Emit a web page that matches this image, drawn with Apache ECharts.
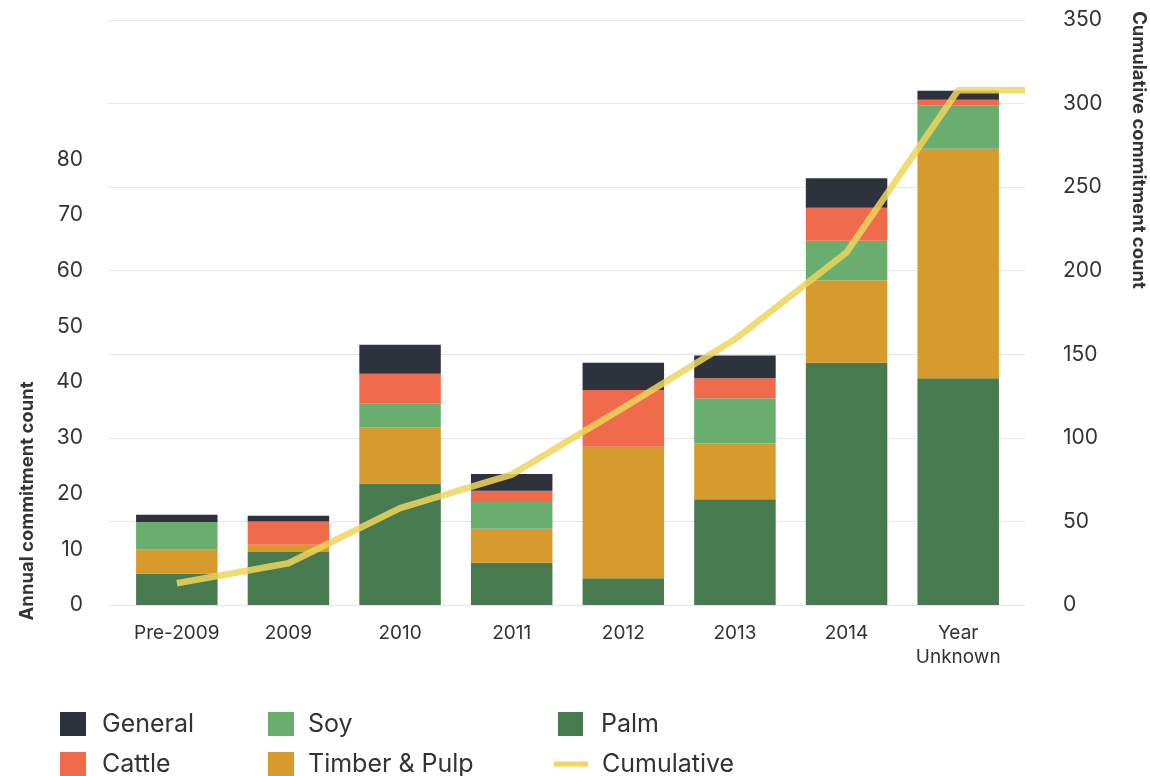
<!DOCTYPE html>
<html><head><meta charset="utf-8">
<script src="https://cdn.jsdelivr.net/npm/echarts@6/dist/echarts.min.js"></script>
<style>html,body{margin:0;padding:0;background:#fff}#c{width:1150px;height:776px}</style>
</head><body><div id="c"></div>
<script>
const categories = ['Pre-2009','2009','2010','2011','2012','2013','2014','Year\nUnknown'];
const palm    = [5.6, 9.5, 21.8, 7.6, 4.8, 19.0, 43.5, 40.7];
const timber  = [4.3, 1.3, 10.1, 6.1, 23.6, 10.0, 14.8, 41.2];
const soy     = [5.0, 0,   4.2,  4.8, 0,    8.1,  7.1,  7.7];
const cattle  = [0,   4.2, 5.4,  2.0, 10.2, 3.6,  5.9,  1.1];
const general = [1.3, 1.0, 5.2,  3.0, 4.9,  4.1,  5.3,  1.6];
const cumulative = [13, 25, 58, 78, 118, 159, 211, 308];

const W = 1150, H = 776;
const outerL = 108, outerR = 1025, innerL = 121, innerR = 1014, plotTop = 20, plotBottom = 605;
const catW = (innerR - innerL) / categories.length;
const c0 = innerL + catW / 2;
const xMin = -(c0 - outerL) / catW;
const xMax = (outerR - c0) / catW;

const FONT = 'Inter';
const colors = {General:'#2e323d', Cattle:'#ef6b4b', Soy:'#69ae6e', 'Timber & Pulp':'#d79a2c', Palm:'#487a4f', Cumulative:'#efd55a'};

const chart = echarts.init(document.getElementById('c'), null, {renderer:'canvas'});
const lineData = cumulative.map((v,i)=>[i,v]).concat([[xMax, cumulative[cumulative.length-1]]]);

function bar(name, data){
  return {name, type:'bar', stack:'a', xAxisIndex:1, yAxisIndex:1, data, barWidth:'73%',
    itemStyle:{color:colors[name]}, emphasis:{disabled:true}};
}
function leg(name, left, cy, textGap, iw, ih){
  iw = iw || 26; ih = ih || 24;
  return {left, top: cy - 14, height: 40, orient:'horizontal', icon:'rect', itemWidth:iw, itemHeight:ih,
    selectedMode:false, data:[name],
    textStyle:{fontFamily:FONT, fontSize:25, color:'#333', lineHeight:28, padding:[0,0,0,textGap]}};
}

chart.setOption({
  animation:false,
  textStyle:{fontFamily:FONT},
  grid:[
    {left:outerL, right:W-outerR, top:plotTop, bottom:H-plotBottom},
    {left:innerL, right:W-innerR, top:plotTop, bottom:H-plotBottom}
  ],
  xAxis:[
    {type:'value', gridIndex:0, min:xMin, max:xMax, show:false},
    {type:'category', gridIndex:1, data:categories, axisLine:{show:false}, axisTick:{show:false},
     axisLabel:{fontFamily:FONT, fontSize:19, color:'#333', margin:16, lineHeight:24}}
  ],
  yAxis:[
    {type:'value', gridIndex:0, position:'right', min:0, max:350, interval:50,
     axisLine:{show:false}, axisTick:{show:false},
     splitLine:{lineStyle:{color:'#e6e6e6', width:1}},
     axisLabel:{fontFamily:FONT, fontSize:21, color:'#333', margin:38}},
    {type:'value', gridIndex:1, position:'left', min:0, max:105, interval:10,
     axisLine:{show:false}, axisTick:{show:false}, splitLine:{show:false},
     axisLabel:{fontFamily:FONT, fontSize:21, color:'#333', margin:38,
       formatter:v=> v<=80 ? String(v) : ''}}
  ],
  legend:[
    leg('General', 55, 719, 11),
    leg('Cattle', 55, 759, 11),
    leg('Soy', 263, 719, 9),
    leg('Timber & Pulp', 263, 759, 9),
    leg('Palm', 553, 719, 13, 25, 24),
    leg('Cumulative', 549, 759, 9, 34, 5)
  ],
  series:[
    bar('Palm', palm),
    bar('Timber & Pulp', timber),
    bar('Soy', soy),
    bar('Cattle', cattle),
    bar('General', general),
    {name:'Cumulative', type:'line', xAxisIndex:0, yAxisIndex:0, data:lineData, symbol:'none',
     z:5, lineStyle:{color:colors.Cumulative, width:6.5, opacity:0.85}, itemStyle:{color:colors.Cumulative},
     emphasis:{disabled:true}}
  ],
  graphic:[
    {type:'text', x:27, y:501, rotation:Math.PI/2, style:{text:'Annual commitment count', fontFamily:FONT,
      fontSize:18.5, fontWeight:'bold', fill:'#333', align:'center', verticalAlign:'middle'}},
    {type:'text', x:1139, y:150, rotation:-Math.PI/2, style:{text:'Cumulative commitment count', fontFamily:FONT,
      fontSize:18.5, fontWeight:'bold', fill:'#333', align:'center', verticalAlign:'middle'}}
  ]
});
</script></body></html>
